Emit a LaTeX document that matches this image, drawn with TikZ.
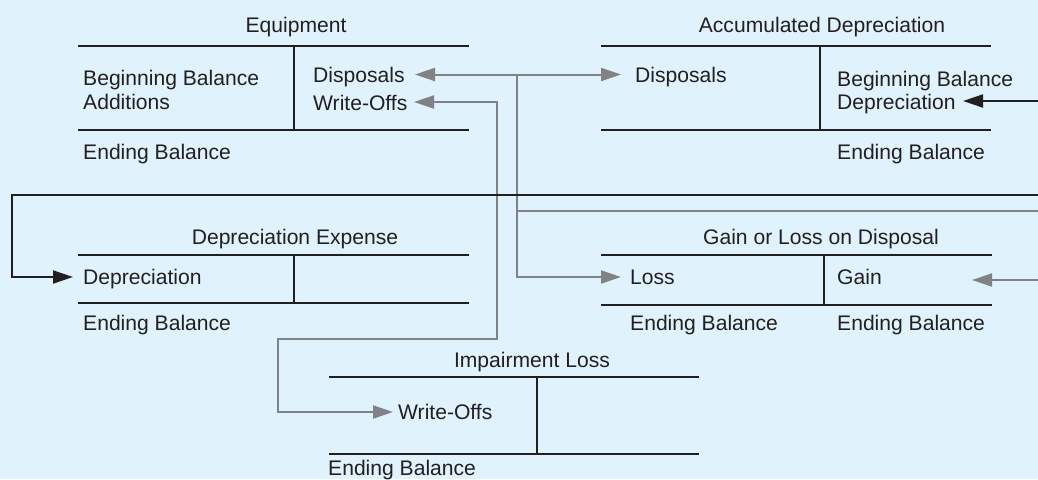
\documentclass[tikz,border=0pt]{standalone}
\usepackage{fontspec}
\setmainfont{Liberation Sans}
\usetikzlibrary{arrows.meta}
\definecolor{bgblue}{RGB}{224,242,252}
\definecolor{inkdark}{RGB}{35,31,32}
\definecolor{flowgray}{RGB}{128,130,133}

\begin{document}
\begin{tikzpicture}[x=1pt,y=-1pt,
  txt/.style={inner sep=0pt, anchor=base west, text=inkdark, font=\fontsize{21.1}{24}\selectfont},
  ttl/.style={txt, anchor=base},
  rule/.style={draw=inkdark, line width=2pt},
  headend/.style={arrows={-Triangle[length=20pt,width=13pt]}},
  headboth/.style={arrows={Triangle[length=20pt,width=13pt]-Triangle[length=20pt,width=13pt]}},
  blackflow/.style={draw=inkdark, line width=2pt},
  grayflow/.style={draw=flowgray, line width=2pt}
]
\fill[bgblue] (0,0) rectangle (1038,479);
\useasboundingbox (0,0) rectangle (1038,479);
\clip (0,0) rectangle (1038,479);

% ---------- Equipment ----------
\node[ttl] (eqT) at (296,32) {Equipment};
\draw[rule] (78,46) -- (469,46) (78,130) -- (469,130) (294,46) -- (294,130);
\node[txt] (eqBB)  at (83,85)   {Beginning Balance};
\node[txt] (eqAdd) at (83,109)  {Additions};
\node[txt] (eqEB)  at (83,159)  {Ending Balance};
\node[txt] (eqDis) at (313,82)  {Disposals};
\node[txt] (eqWO)  at (313,110) {Write-Offs};

% ---------- Accumulated Depreciation ----------
\node[ttl] (adT) at (822,32) {Accumulated Depreciation};
\draw[rule] (601,46) -- (991,46) (601,130) -- (991,130) (820,46) -- (820,130);
\node[txt] (adDis) at (635,82)  {Disposals};
\node[txt] (adBB)  at (837,86)  {Beginning Balance};
\node[txt] (adDep) at (837,109) {Depreciation};
\node[txt] (adEB)  at (837,159) {Ending Balance};

% ---------- Depreciation Expense ----------
\node[ttl] (deT) at (295,244) {Depreciation Expense};
\draw[rule] (78,255) -- (469,255) (78,303) -- (469,303) (294,255) -- (294,303);
\node[txt] (deDep) at (83,284) {Depreciation};
\node[txt] (deEB)  at (83,330) {Ending Balance};

% ---------- Gain or Loss on Disposal ----------
\node[ttl] (glT) at (821,244.5) {Gain or Loss on Disposal};
\draw[rule] (601,255) -- (992,255) (601,305) -- (992,305) (824,255) -- (824,305);
\node[txt] (glLoss) at (630,284) {Loss};
\node[txt] (glGain) at (837,284) {Gain};
\node[txt] (glEBL)  at (630,330) {Ending Balance};
\node[txt] (glEBG)  at (837,330) {Ending Balance};

% ---------- Impairment Loss ----------
\node[ttl] (imT) at (532,367.5) {Impairment Loss};
\draw[rule] (329,377) -- (699,377) (329,454) -- (699,454) (537,377) -- (537,454);
\node[txt] (imWO) at (398,419.3) {Write-Offs};
\node[txt] (imEB) at (328,475)   {Ending Balance};

% ---------- connector points ----------
\coordinate (eqDisTip) at (415,74.5);
\coordinate (adDisTip) at (621,74.5);
\coordinate (disJ)     at (517,74.5);
\coordinate (lossTip)  at (621,277);
\coordinate (gainJ)    at (517,211);
\coordinate (gainOff)  at (1050,211);
\coordinate (gainTip)  at (972,280);

\coordinate (eqWOTip)  at (414,102);
\coordinate (woBend1)  at (497,339);
\coordinate (woBend2)  at (278,412);
\coordinate (imWOTip)  at (393,412);

\coordinate (adDepTip) at (963,101);
\coordinate (depOff)   at (1050,195);
\coordinate (depBend)  at (12,277);
\coordinate (deDepTip) at (73,277);

% ---------- disposals ----------
\draw[grayflow, headboth] (eqDisTip) -- (adDisTip);
\draw[grayflow, headend] (disJ) |- (lossTip);
\draw[grayflow, headend] (gainJ) -- (gainOff) |- (gainTip);

% ---------- write-offs ----------
\draw[grayflow, headboth] (eqWOTip) -| (woBend1) -| (woBend2) -- (imWOTip);

% ---------- depreciation ----------
\draw[blackflow, headboth] (adDepTip) -| (depOff) -| (depBend) -- (deDepTip);
\end{tikzpicture}
\end{document}
